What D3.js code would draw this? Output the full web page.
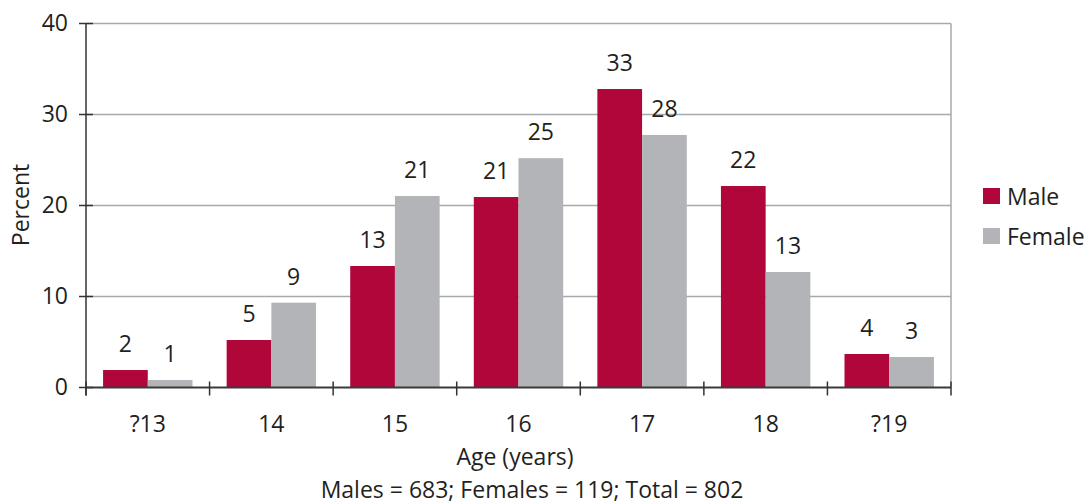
<!DOCTYPE html>
<html>
<head>
<meta charset="utf-8">
<script src="https://cdn.jsdelivr.net/npm/d3@7"></script>
<style>
  html, body { margin: 0; padding: 0; background: #fff; }
  svg text { font-family: "Open Sans", "Noto Sans", sans-serif; fill: #231f20; }
</style>
</head>
<body>
<svg id="chart" width="1088" height="504"></svg>
<script>
// Age groups and percentage of each sex per group
const ages = ["?13", "14", "15", "16", "17", "18", "?19"];
const series = ["Male", "Female"];
const male = [1.92, 5.22, 13.35, 20.93, 32.8, 22.14, 3.68];
const female = [0.82, 9.32, 21.04, 25.2, 27.75, 12.69, 3.35];
const yTicks = [0, 10, 20, 30, 40];
const colors = ["#b1063a", "#b2b4b7"];
const xTitle = "Age (years)";
const yTitle = "Percent";
const footnote = "Males = 683; Females = 119; Total = 802";

const svg = d3.select("#chart");
const plotL = 86, plotR = 951, plotT = 23.5, plotB = 387.5;
const fontSize = 23;

const x0 = d3.scaleBand().domain(ages).range([plotL, plotR]).paddingInner(0).paddingOuter(0);
const x1 = d3.scaleBand().domain(series).range([0, x0.bandwidth()]).paddingInner(0).paddingOuter(0.382);
const y = d3.scaleLinear().domain([0, 40]).range([plotB, plotT]);

// horizontal gridlines
svg.append("g").selectAll("line").data(yTicks.filter(t => t > 0)).join("line")
  .attr("x1", plotL).attr("x2", plotR)
  .attr("y1", d => y(d)).attr("y2", d => y(d))
  .attr("stroke", "#a7a9ac").attr("stroke-width", 1.5);
// right border
svg.append("line").attr("x1", plotR).attr("x2", plotR).attr("y1", plotT).attr("y2", plotB)
  .attr("stroke", "#a7a9ac").attr("stroke-width", 1.5);

// bars
const rows = ages.map((a, i) => ({ age: a, vals: [male[i], female[i]] }));
const groups = svg.append("g").selectAll("g").data(rows).join("g")
  .attr("transform", d => `translate(${x0(d.age)},0)`);
groups.selectAll("rect").data(d => d.vals.map((v, j) => ({ s: series[j], v, j }))).join("rect")
  .attr("x", d => x1(d.s)).attr("width", x1.bandwidth())
  .attr("y", d => y(d.v)).attr("height", d => y(0) - y(d.v))
  .attr("fill", d => colors[d.j]);
groups.selectAll("text").data(d => d.vals.map((v, j) => ({ s: series[j], v, j }))).join("text")
  .attr("x", d => x1(d.s) + x1.bandwidth() / 2).attr("y", d => y(d.v) - 18)
  .attr("text-anchor", "middle").attr("font-size", fontSize)
  .text(d => Math.round(d.v));

// y axis
const yAxis = svg.append("g").attr("transform", `translate(${plotL},0)`)
  .call(d3.axisLeft(y).tickValues(yTicks).tickSize(0).tickPadding(18));
yAxis.select(".domain").remove();
yAxis.selectAll("text").attr("font-size", fontSize).style("font-family", null).attr("fill", "#231f20");
svg.append("g").selectAll("line").data(yTicks).join("line")
  .attr("x1", plotL - 7).attr("x2", plotL + 7)
  .attr("y1", d => y(d)).attr("y2", d => y(d))
  .attr("stroke", "#333").attr("stroke-width", 1.5);
svg.append("line").attr("x1", plotL).attr("x2", plotL).attr("y1", plotT).attr("y2", plotB + 8)
  .attr("stroke", "#333").attr("stroke-width", 1.5);

// x axis
svg.append("line").attr("x1", plotL).attr("x2", plotR).attr("y1", plotB).attr("y2", plotB)
  .attr("stroke", "#3a3a3a").attr("stroke-width", 2);
const bounds = ages.map(a => x0(a)).concat([plotR]);
svg.append("g").selectAll("line").data(bounds).join("line")
  .attr("x1", d => d).attr("x2", d => d)
  .attr("y1", plotB - 6).attr("y2", plotB + 8)
  .attr("stroke", "#333").attr("stroke-width", 1.5);
svg.append("g").selectAll("text").data(ages).join("text")
  .attr("x", d => x0(d) + x0.bandwidth() / 2).attr("y", 432)
  .attr("text-anchor", "middle").attr("font-size", fontSize)
  .text(d => d);

// titles
svg.append("text").attr("x", 515).attr("y", 465).attr("text-anchor", "middle")
  .attr("font-size", fontSize).text(xTitle);
svg.append("text").attr("x", 532).attr("y", 498).attr("text-anchor", "middle")
  .attr("font-size", fontSize).text(footnote);
svg.append("text").attr("transform", "translate(29,205) rotate(-90)")
  .attr("text-anchor", "middle").attr("font-size", fontSize).text(yTitle);

// legend
const legend = svg.append("g").selectAll("g").data(series).join("g")
  .attr("transform", (d, i) => `translate(983,${188 + i * 40})`);
legend.append("rect").attr("width", 17).attr("height", 16).attr("fill", (d, i) => colors[i]);
legend.append("text").attr("x", 24).attr("y", 17).attr("font-size", fontSize).text(d => d);
</script>
</body>
</html>
